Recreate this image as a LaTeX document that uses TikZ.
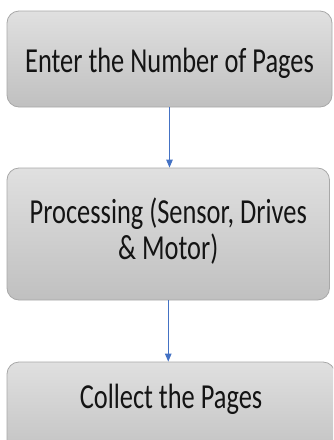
\documentclass[tikz,border=0pt]{standalone}
\usepackage{fontspec}
\setmainfont{Carlito}
\usetikzlibrary{arrows.meta}
\definecolor{boxtop}{RGB}{224,224,224}
\definecolor{boxbottom}{RGB}{192,192,192}
\definecolor{boxedge}{RGB}{168,168,168}
\definecolor{flowblue}{RGB}{68,114,196}
\newcommand{\tallrows}[1]{\scalebox{1}[1.33]{\begin{tabular}{@{}c@{}}#1\end{tabular}}}
\tikzset{
  stepbox/.style={draw=boxedge, line width=0.8pt, rounded corners=12pt,
    top color=boxtop, bottom color=boxbottom, text=black!92,
    font=\fontsize{26.4}{25.5}\selectfont, inner sep=0pt},
  flow/.style={draw=flowblue, line width=1.1pt, -{Triangle[width=6.5pt,length=8pt]}}
}
\begin{document}
\begin{tikzpicture}[x=1pt, y=-1pt]
            \useasboundingbox (0,0) rectangle (333,440);
            \clip (0,0) rectangle (333,440);
            \fill[white] (0,0) rectangle (333,440);
            % the three steps
            \node[stepbox, minimum width=325pt, minimum height=96pt, text height=36pt, text depth=6pt] (enter) at (169.5,59) {\tallrows{Enter the Number of Pages}};
            \node[stepbox, minimum width=322.5pt, minimum height=132pt] (process) at (168.25,234) {\tallrows{Processing (Sensor, Drives\\ \& Motor)}};
            \node[stepbox, minimum width=328pt, minimum height=100pt, text height=8pt, text depth=12pt] (collect) at (171,412) {\tallrows{Collect the Pages}};
            % arrows between them
            \draw[flow] (enter.south) -- (enter.south |- process.north);
            \draw[flow] (process.south) -- (process.south |- collect.north);
        \end{tikzpicture}
\end{document}
